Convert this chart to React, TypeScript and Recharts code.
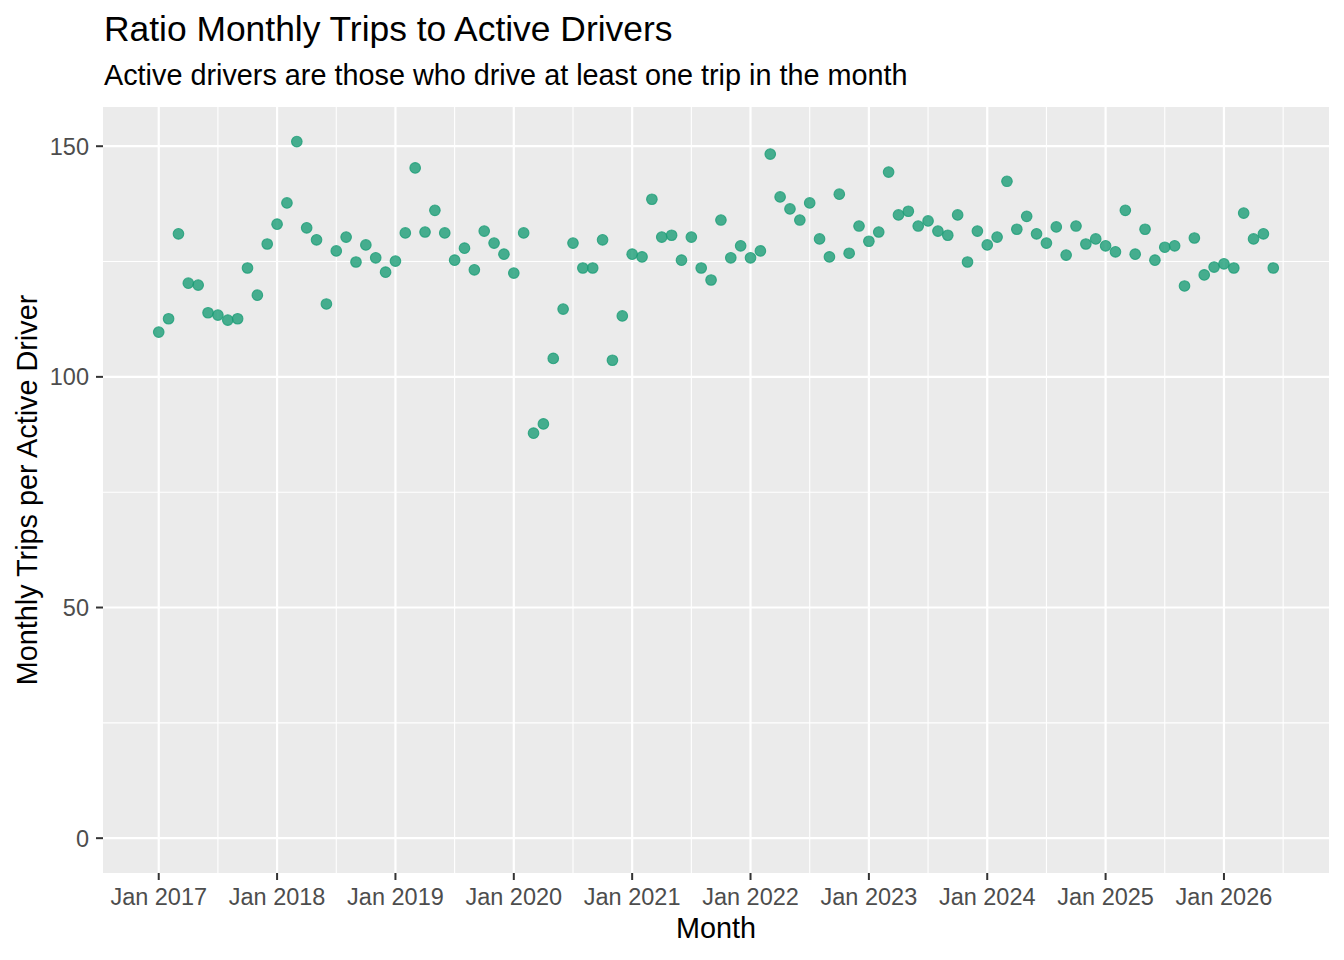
import React from "react";
import { ScatterChart, Scatter, XAxis, YAxis, CartesianGrid } from "recharts";

const months: string[] = [];
for (let y = 2017; y <= 2026; y++) {
  for (let m = 1; m <= 12; m++) {
    if (y === 2026 && m > 6) break;
    months.push(`${y}-${String(m).padStart(2, "0")}`);
  }
}

const ratio2017 = [109.7, 112.6, 131.0, 120.3, 119.9, 113.9, 113.4, 112.3, 112.6, 123.6, 117.7, 128.8];
const ratio2018 = [133.1, 137.7, 151.0, 132.3, 129.7, 115.8, 127.3, 130.3, 124.9, 128.6, 125.8, 122.7];
const ratio2019 = [125.1, 131.2, 145.3, 131.4, 136.1, 131.2, 125.3, 127.9, 123.2, 131.6, 129.0, 126.6];
const ratio2020 = [122.5, 131.2, 87.8, 89.8, 104.0, 114.7, 129.0, 123.6, 123.6, 129.7, 103.6, 113.2];
const ratio2021 = [126.6, 126.0, 138.5, 130.3, 130.7, 125.3, 130.3, 123.6, 121.0, 134.0, 125.8, 128.4];
const ratio2022 = [125.8, 127.3, 148.3, 139.0, 136.4, 134.0, 137.7, 129.9, 126.0, 139.6, 126.8, 132.7];
const ratio2023 = [129.4, 131.4, 144.4, 135.1, 135.9, 132.7, 133.8, 131.6, 130.7, 135.1, 124.9, 131.6];
const ratio2024 = [128.6, 130.3, 142.4, 132.0, 134.8, 131.0, 129.0, 132.5, 126.4, 132.7, 128.8, 129.9];
const ratio2025 = [128.4, 127.1, 136.1, 126.6, 132.0, 125.3, 128.1, 128.4, 119.7, 130.1, 122.1, 123.8];
const ratio2026 = [124.5, 123.6, 135.5, 129.9, 131.0, 123.6];

const ratios = [
  ...ratio2017, ...ratio2018, ...ratio2019, ...ratio2020, ...ratio2021,
  ...ratio2022, ...ratio2023, ...ratio2024, ...ratio2025, ...ratio2026,
];

const yTicks = [0, 50, 100, 150];
const yMinor = [25, 75, 125];
const xTickYears = [2017, 2018, 2019, 2020, 2021, 2022, 2023, 2024, 2025, 2026];

const data = months.map((m, i) => ({ x: i, month: m, y: ratios[i] }));
const xTicks = xTickYears.map((yr) => (yr - 2017) * 12);
const xMinor = xTickYears.map((yr) => (yr - 2017) * 12 + 6);

const FONT = "'Liberation Sans', Arial, Helvetica, sans-serif";
const POINT = "#1B9E77";

const Dot = (props: any) => {
  const { cx, cy } = props;
  if (cx == null || cy == null) return null;
  return (
    <circle
      cx={cx}
      cy={cy}
      r={5.3}
      fill={POINT}
      fillOpacity={0.8}
      stroke={POINT}
      strokeOpacity={0.8}
      strokeWidth={1.1}
    />
  );
};

export default function App() {
  return (
    <div style={{ position: "absolute", left: 0, top: 0, width: 1344, height: 960, background: "#fff" }}>
      <ScatterChart
        width={1344}
        height={960}
        margin={{ top: 107, right: 15, bottom: 27, left: 0 }}
      >
        <CartesianGrid
          fill="#EBEBEB"
          stroke="#FFFFFF"
          strokeWidth={1.1}
          horizontalValues={yMinor}
          verticalValues={xMinor}
        />
        <CartesianGrid
          stroke="#FFFFFF"
          strokeWidth={2.2}
          horizontalValues={yTicks}
          verticalValues={xTicks}
        />
        <XAxis
          type="number"
          dataKey="x"
          domain={[-5.65, 118.65]}
          ticks={xTicks}
          allowDataOverflow
          height={60}
          axisLine={false}
          tickSize={7}
          tickMargin={8}
          tickLine={{ stroke: "#333333", strokeWidth: 2 }}
          tick={{ fill: "#4D4D4D", fontSize: 23.5, fontFamily: FONT }}
          tickFormatter={(v: number) => `Jan ${2017 + Math.round(v / 12)}`}
          interval={0}
        />
        <YAxis
          type="number"
          dataKey="y"
          domain={[-7.55, 158.5]}
          ticks={yTicks}
          allowDataOverflow
          width={103}
          axisLine={false}
          tickSize={7}
          tickMargin={7}
          tickLine={{ stroke: "#333333", strokeWidth: 2 }}
          tick={{ fill: "#4D4D4D", fontSize: 23.5, fontFamily: FONT }}
          interval={0}
        />
        <Scatter data={data} shape={Dot} isAnimationActive={false} />
      </ScatterChart>
      <svg
        width={1344}
        height={960}
        style={{ position: "absolute", left: 0, top: 0, pointerEvents: "none" }}
      >
        <text x={104} y={41} fontSize={35.4} fontFamily={FONT} fill="#000">
          Ratio Monthly Trips to Active Drivers
        </text>
        <text x={104} y={85} fontSize={28.8} fontFamily={FONT} fill="#000">
          Active drivers are those who drive at least one trip in the month
        </text>
        <text x={716} y={938} fontSize={28.8} fontFamily={FONT} fill="#000" textAnchor="middle">
          Month
        </text>
        <text
          x={0}
          y={0}
          fontSize={28.8}
          fontFamily={FONT}
          fill="#000"
          textAnchor="middle"
          transform="translate(37,490) rotate(-90)"
        >
          Monthly Trips per Active Driver
        </text>
      </svg>
    </div>
  );
}
